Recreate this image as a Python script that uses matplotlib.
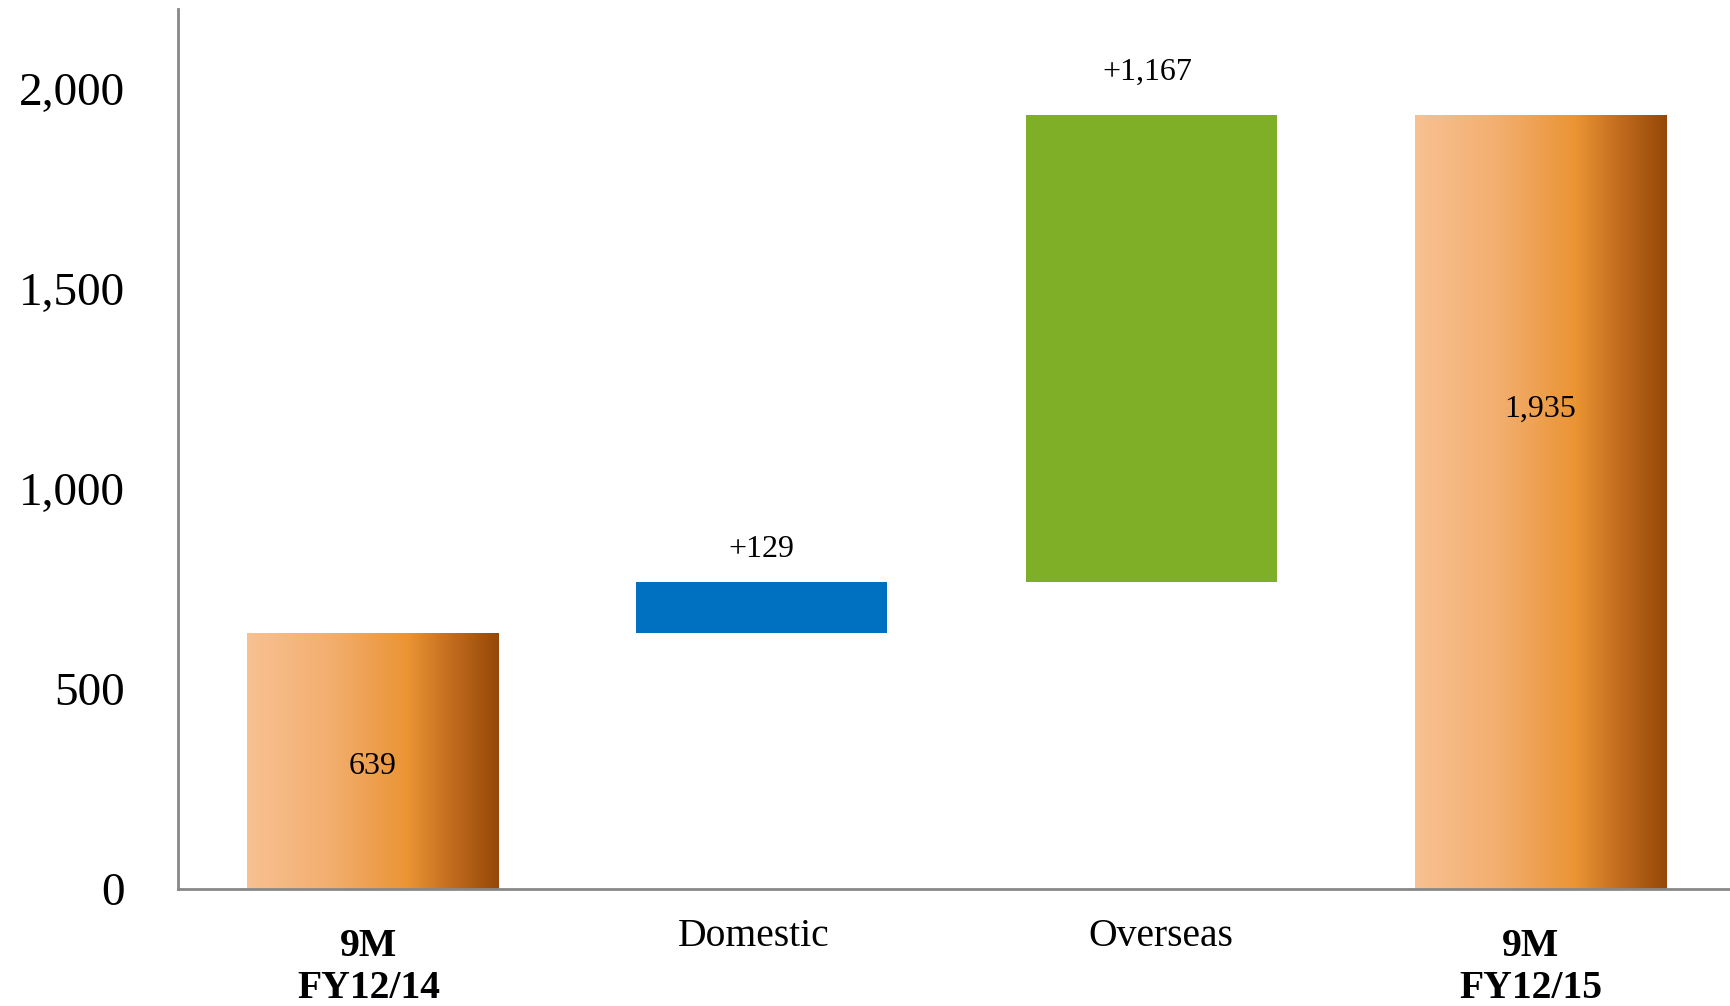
import numpy as np
import matplotlib.pyplot as plt
from matplotlib.colors import LinearSegmentedColormap

categories = ["9M\nFY12/14", "Domestic", "Overseas", "9M\nFY12/15"]
start_value = 639
changes = [129, 1167]
end_value = 1935
yticks = [0, 500, 1000, 1500, 2000]

serif = ["Liberation Serif", "DejaVu Serif"]

# orange gradient used by the totals
grad = LinearSegmentedColormap.from_list(
    "orange_grad",
    [(0.0, "#f8c192"), (0.35, "#f2ad6c"), (0.64, "#ea9433"),
     (0.82, "#c06a1e"), (1.0, "#954808")])

fig = plt.figure(figsize=(17.31, 10.06), dpi=100)
ax = fig.add_axes([0.1028, 0.1163, 0.8972, 0.8747])

x = np.arange(len(categories))
width = 0.645

heights = [start_value] + changes + [end_value]
bottoms = [0, start_value, start_value + changes[0], 0]
colors = [None, "#0070c0", "#7fae27", None]

for i, (h, b, c) in enumerate(zip(heights, bottoms, colors)):
    if c is None:
        bar = ax.bar(x[i], h, width, bottom=b, color="none", edgecolor="none")[0]
        img = ax.imshow(np.linspace(0, 1, 256)[None, :], cmap=grad, aspect="auto",
                        extent=[x[i] - width / 2, x[i] + width / 2, b, b + h],
                        zorder=2)
        img.set_clip_path(bar)
    else:
        ax.bar(x[i], h, width, bottom=b, color=c, edgecolor="none", zorder=2)

# value labels
ax.text(x[0], start_value * 0.48, f"{start_value:,}", ha="center", va="center",
        fontsize=23, family=serif, zorder=3)
ax.text(x[3], end_value * 0.62, f"{end_value:,}", ha="center", va="center",
        fontsize=23, family=serif, zorder=3)
for i, d in enumerate(changes):
    top = bottoms[i + 1] + d
    ax.annotate(f"+{d:,}", (x[i + 1], top), xytext=(-3 if i else 0, 23 if i == 0 else 31),
                textcoords="offset points", ha="center", va="center",
                fontsize=23, family=serif)

ax.set_xlim(-0.5, 3.49)
ax.set_ylim(0, 2200)
ax.set_yticks(yticks)
ax.set_yticklabels([f"{v:,}" for v in yticks], fontsize=34, family=serif)
ax.tick_params(axis="y", length=0, pad=38)
ax.set_xticks([])

# category labels (small nudges as in the original slide)
nudge = [-0.01, -0.02, 0.025, -0.025]
trans = ax.get_xaxis_transform()
for i, lab in enumerate(categories):
    if "\n" in lab:
        ax.text(x[i] + nudge[i], -0.044, lab, transform=trans, ha="center", va="top",
                fontsize=28.5, fontweight="bold", family=serif, linespacing=1.2)
    else:
        ax.text(x[i] + nudge[i], -0.033, lab, transform=trans, ha="center", va="top",
                fontsize=28.5, family=serif)

for s in ["top", "right"]:
    ax.spines[s].set_visible(False)
for s in ["left", "bottom"]:
    ax.spines[s].set_color("#888888")
    ax.spines[s].set_linewidth(2)

fig.savefig("out.png", dpi=100)
